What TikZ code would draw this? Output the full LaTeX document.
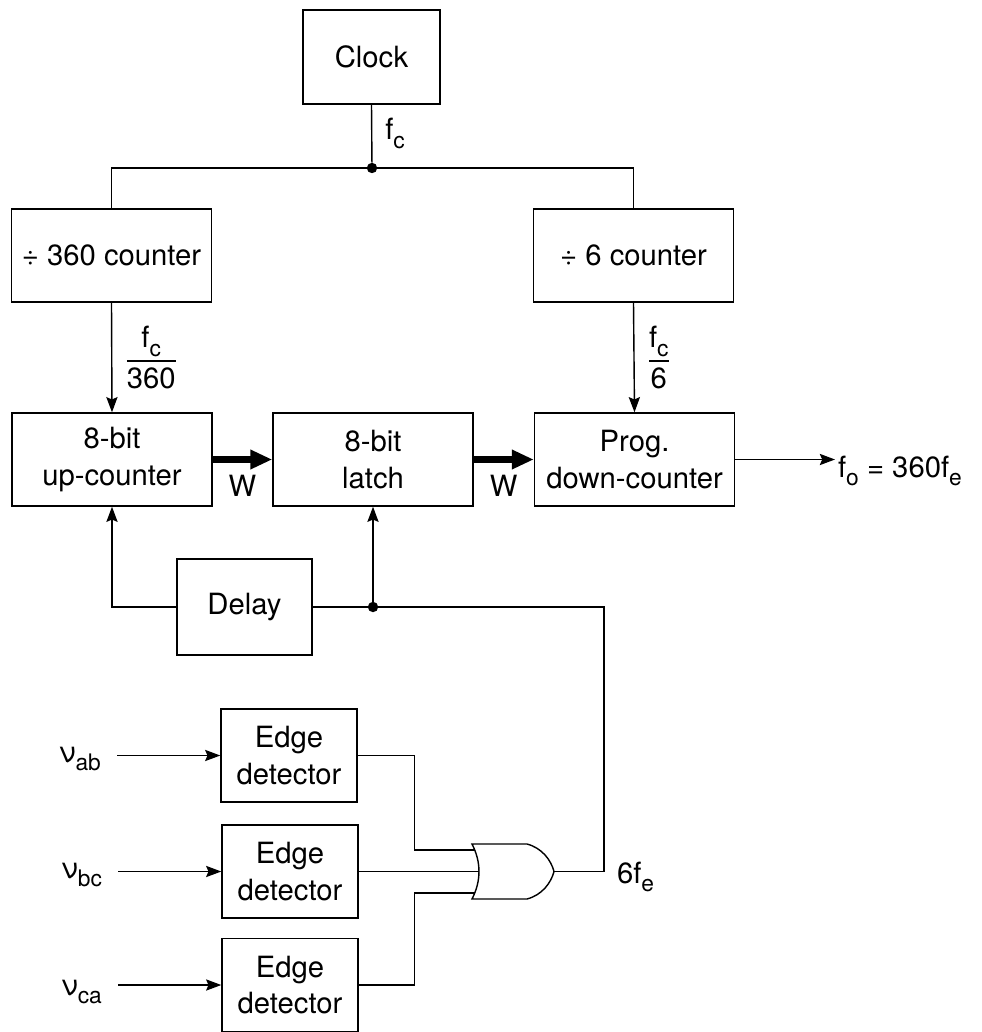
\documentclass[tikz,border=0pt]{standalone}
\usepackage{amsmath}
\usepackage{fontspec}
\setmainfont{TeX Gyre Heros}
\usetikzlibrary{arrows.meta}
\usetikzlibrary{positioning}
\newcommand{\sbs}[1]{\raisebox{-0.3em}{\fontsize{16.2}{18}\selectfont #1}}

\begin{document}
\begin{tikzpicture}[
		x=0.025cm, y=-0.025cm,
		font=\fontsize{20.8}{26.2}\selectfont,
		blk/.style = {rectangle, draw, line width=1pt, minimum width=5cm, minimum height=2.325cm, inner sep=0pt, align=center},
		sblk/.style = {blk, minimum width=3.4cm},
		wire/.style = {line width=1pt},
		sig/.style = {wire, -{Stealth[length=0.38cm, width=0.28cm, inset=0.06cm]}},
		bus/.style = {line width=4.6pt, -{Triangle[length=0.55cm, width=0.46cm]}},
		jdot/.style = {circle, fill, inner sep=0pt, minimum size=0.26cm},
		lbl/.style = {inner sep=2pt}
		]
		\useasboundingbox (0,0) rectangle (981,1032);
		
		%Nodes
		\node[blk, minimum width=3.425cm, minimum height=2.35cm]	(clk)	at	(371.5, 57)	{Clock};
		\node[blk]	(div360)	at	(111.5, 255.5)	{÷ 360 counter};
		\node[blk]	(div6)		at	(633.5, 255.5)	{÷ 6 counter};
		\node[blk]	(upcnt)		at	(112, 459.5)	{8-bit\\up-counter};
		\node[blk]	(latch)		at	(373, 459.5)	{8-bit\\latch};
		\node[blk]	(prog)		at	(634.5, 459.5)	{Prog.\\down-counter};
		\node[sblk, minimum width=3.375cm, minimum height=2.4cm]	(delay)	at	(244.5, 607)	{Delay};
		\node[sblk]	(ed1)	at	(289, 755.5)	{Edge\\detector};
		\node[sblk]	(ed2)	at	(290, 871.5)	{Edge\\detector};
		\node[sblk]	(ed3)	at	(290, 985)	{Edge\\detector};
		\node[jdot]	(j1)	at	(372, 168)	{};
		\node[jdot]	(j2)	at	(373, 607)	{};
		\node[lbl, anchor=base east]	(va)	at	(104, 762)	{ν\sbs{ab}};
		\node[lbl, anchor=base east]	(vb)	at	(105, 878)	{ν\sbs{bc}};
		\node[lbl, anchor=base east]	(vc)	at	(105, 995)	{ν\sbs{ca}};
		\node[lbl, anchor=base west]	(fo)	at	(835, 477)	{f\sbs{o} = 360f\sbs{e}};
		\node[lbl, anchor=base west]	(f6)	at	(614, 883)	{6f\sbs{e}};
		
		%OR gate
		\coordinate	(or-in1)	at	(475, 850);
		\coordinate	(or-in2)	at	(479, 871.5);
		\coordinate	(or-in3)	at	(475, 893);
		\coordinate	(or-out)	at	(554, 871.5);
		\coordinate	(fb)		at	(604, 871.5);
		\draw[wire] (472, 844) -- (527, 844) .. controls (542, 848) and (551, 860) .. (or-out)
			.. controls (551, 883) and (542, 895) .. (527, 899) -- (472, 899)
			.. controls (481.3, 881) and (481.3, 862) .. cycle;
		
		%Lines
		\draw[wire]	(clk.south)	to	node[lbl, right=0.25cm]	{f\sbs{c}}	(j1);
		\draw[wire]	(j1)	-|	(div360.north);
		\draw[wire]	(j1)	-|	(div6.north);
		\draw[sig]	(div360.south)	to	node[right=0.2cm]	{$\dfrac{\text{f\sbs{c}}}{\text{360}}$}	(upcnt.north);
		\draw[sig]	(div6.south)	to	node[right=0.2cm]	{$\dfrac{\text{f\sbs{c}}}{\text{6}}$}	(prog.north);
		\draw[bus]	(upcnt.east)	to	node[below=0.2cm]	{W}	(latch.west);
		\draw[bus]	(latch.east)	to	node[below=0.2cm]	{W}	(prog.west);
		\draw[sig]	(prog.east)	--	(prog.east -| fo.west);
		\draw[sig]	(delay.west)	-|	(upcnt.south);
		\draw[wire]	(delay.east)	--	(j2);
		\draw[sig]	(j2)	--	(latch.south);
		\draw[wire]	(or-out)	--	(fb)	|-	(j2);
		\draw[sig, shorten <=0.33cm]	(ed1.west -| va.east)	--	(ed1.west);
		\draw[sig, shorten <=0.33cm]	(ed2.west -| vb.east)	--	(ed2.west);
		\draw[sig, shorten <=0.33cm]	(ed3.west -| vc.east)	--	(ed3.west);
		\draw[wire]	(ed1.east)	--	++(57, 0)	|-	(or-in1);
		\draw[wire]	(ed2.east)	--	(or-in2);
		\draw[wire]	(ed3.east)	--	++(56, 0)	|-	(or-in3);
	\end{tikzpicture}
\end{document}
